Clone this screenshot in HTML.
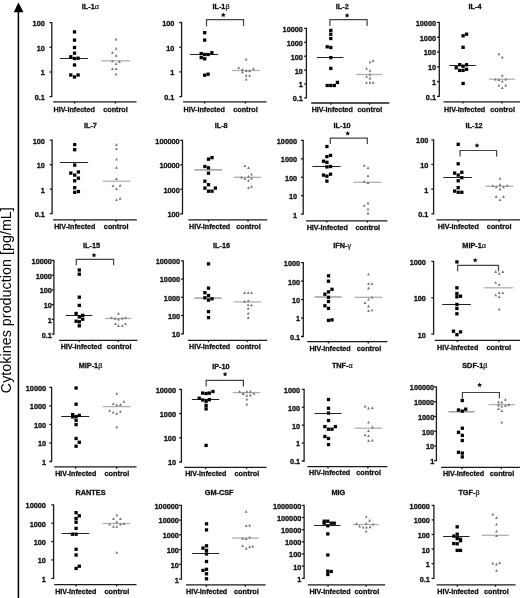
<!DOCTYPE html>
<html><head><meta charset="utf-8"><title>Cytokine production in HIV-infected vs control</title>
<style>
html,body{margin:0;padding:0;background:#fff;}
body{width:520px;height:598px;overflow:hidden;}
svg{display:block;will-change:transform;filter:blur(0.25px);}
text{font-family:"Liberation Sans",sans-serif;}
.ax{stroke:#1a1a1a;stroke-width:1.3;fill:none;}
.br{stroke:#444;stroke-width:1.2;fill:none;}
.tl,.xl,.tt{font-size:7.3px;font-weight:bold;fill:#111;stroke:#111;stroke-width:0.3px;}
.tl{text-anchor:end;}
.xl,.tt{text-anchor:middle;}
.gk{font-weight:normal;stroke-width:0.2px;}
.st{font-size:9px;font-weight:bold;text-anchor:middle;fill:#111;stroke:#111;stroke-width:0.3px;}
.tr{fill:#767676;}
rect{fill:#000;}
</style></head><body>
<svg width="520" height="598" viewBox="0 0 520 598">
<rect x="0" y="0" width="520" height="598" style="fill:#fff"/>
<line x1="18.4" y1="11" x2="18.4" y2="598" stroke="#000" stroke-width="1.5"/>
<path d="M18.5 2.5L23.5 12.2H13.7Z" fill="#000"/>
<text transform="translate(11,393.2) rotate(-90)" font-size="14.2" textLength="186" lengthAdjust="spacing" fill="#000">Cytokines production [pg/mL]</text>
<path d="M49.5 22.6H51.8V96.7H49.5" class="ax"/>
<line x1="49.5" y1="47.3" x2="51.8" y2="47.3" class="ax"/>
<line x1="49.5" y1="72" x2="51.8" y2="72" class="ax"/>
<text x="44.8" y="26" class="tl">100</text>
<text x="44.8" y="50.7" class="tl">10</text>
<text x="44.8" y="75.4" class="tl">1</text>
<text x="44.8" y="100.1" class="tl">0.1</text>
<line x1="53.1" y1="101.8" x2="136.5" y2="101.8" class="ax"/>
<line x1="74.6" y1="101.8" x2="74.6" y2="103.6" class="ax"/>
<line x1="115.4" y1="101.8" x2="115.4" y2="103.6" class="ax"/>
<text x="74.2" y="111.7" class="xl" textLength="41.2" lengthAdjust="spacingAndGlyphs">HIV-infected</text>
<text x="115.5" y="111.7" class="xl">control</text>
<text x="90.4" y="8.5" class="tt">IL-1<tspan class="gk">α</tspan></text>
<line x1="59.9" y1="58.5" x2="87.8" y2="58.5" stroke="#222" stroke-width="1.0"/>
<line x1="101.2" y1="60.8" x2="129.9" y2="60.8" stroke="#b0b0b0" stroke-width="1.3"/>
<rect x="72.85" y="30.25" width="3.3" height="3.3"/>
<rect x="72.85" y="38.45" width="3.3" height="3.3"/>
<rect x="72.85" y="45.85" width="3.3" height="3.3"/>
<rect x="72.85" y="51.55" width="3.3" height="3.3"/>
<rect x="69.15" y="55.15" width="3.3" height="3.3"/>
<rect x="72.85" y="56.85" width="3.3" height="3.3"/>
<rect x="76.45" y="56.55" width="3.3" height="3.3"/>
<rect x="72.85" y="63.35" width="3.3" height="3.3"/>
<rect x="69.15" y="73.35" width="3.3" height="3.3"/>
<rect x="72.85" y="75.35" width="3.3" height="3.3"/>
<rect x="76.45" y="73.35" width="3.3" height="3.3"/>
<path d="M116.1 37.7L117.5 40.5H114.7Z" class="tr"/>
<path d="M116.1 46.9L117.5 49.7H114.7Z" class="tr"/>
<path d="M112.4 50.9L113.8 53.7H111Z" class="tr"/>
<path d="M116.1 54L117.5 56.8H114.7Z" class="tr"/>
<path d="M112.4 59.5L113.8 62.3H111Z" class="tr"/>
<path d="M119.4 60.1L120.8 62.9H118Z" class="tr"/>
<path d="M116.1 62.3L117.5 65.1H114.7Z" class="tr"/>
<path d="M112.4 67.3L113.8 70.1H111Z" class="tr"/>
<path d="M116.1 67.3L117.5 70.1H114.7Z" class="tr"/>
<path d="M116.1 72.4L117.5 75.2H114.7Z" class="tr"/>
<path d="M179.3 22.5H181.6V96.6H179.3" class="ax"/>
<line x1="179.3" y1="47.2" x2="181.6" y2="47.2" class="ax"/>
<line x1="179.3" y1="71.9" x2="181.6" y2="71.9" class="ax"/>
<text x="174.4" y="25.9" class="tl">100</text>
<text x="174.4" y="50.6" class="tl">10</text>
<text x="174.4" y="75.3" class="tl">1</text>
<text x="174.4" y="100" class="tl">0.1</text>
<line x1="183.1" y1="101.8" x2="266.5" y2="101.8" class="ax"/>
<line x1="204.6" y1="101.8" x2="204.6" y2="103.6" class="ax"/>
<line x1="245.4" y1="101.8" x2="245.4" y2="103.6" class="ax"/>
<text x="204.2" y="111.7" class="xl" textLength="41.2" lengthAdjust="spacingAndGlyphs">HIV-infected</text>
<text x="245.5" y="111.7" class="xl">control</text>
<text x="221" y="8.5" class="tt">IL-1<tspan class="gk">β</tspan></text>
<path d="M206.5 26.3V19.6H243.5V26.3" class="br"/>
<polygon points="223.3,12.5 224.03,13.99 225.68,14.23 224.49,15.39 224.77,17.02 223.3,16.25 221.83,17.02 222.11,15.39 220.92,14.23 222.57,13.99" fill="#111"/>
<line x1="189.9" y1="54.5" x2="218.1" y2="54.5" stroke="#222" stroke-width="1.0"/>
<line x1="231.9" y1="70.5" x2="259.9" y2="70.5" stroke="#b0b0b0" stroke-width="1.3"/>
<rect x="203.05" y="31.05" width="3.3" height="3.3"/>
<rect x="203.05" y="38.45" width="3.3" height="3.3"/>
<rect x="199.55" y="51.95" width="3.3" height="3.3"/>
<rect x="203.05" y="52.85" width="3.3" height="3.3"/>
<rect x="206.45" y="52.85" width="3.3" height="3.3"/>
<rect x="210.25" y="51.05" width="3.3" height="3.3"/>
<rect x="199.55" y="55.95" width="3.3" height="3.3"/>
<rect x="203.05" y="57.15" width="3.3" height="3.3"/>
<rect x="203.05" y="73.55" width="3.3" height="3.3"/>
<rect x="206.45" y="72.55" width="3.3" height="3.3"/>
<path d="M246.2 57.7L247.6 60.5H244.8Z" class="tr"/>
<path d="M238.8 66.3L240.2 69.1H237.4Z" class="tr"/>
<path d="M242.4 68.1L243.8 70.9H241Z" class="tr"/>
<path d="M246.2 69.3L247.6 72.1H244.8Z" class="tr"/>
<path d="M249.6 69.3L251 72.1H248.2Z" class="tr"/>
<path d="M253.5 67.3L254.9 70.1H252.1Z" class="tr"/>
<path d="M242.4 70.5L243.8 73.3H241Z" class="tr"/>
<path d="M246.2 74L247.6 76.8H244.8Z" class="tr"/>
<path d="M249.6 74L251 76.8H248.2Z" class="tr"/>
<path d="M246.2 77.7L247.6 80.5H244.8Z" class="tr"/>
<path d="M304.1 28.4H306.4V97.9H304.1" class="ax"/>
<line x1="304.1" y1="42.3" x2="306.4" y2="42.3" class="ax"/>
<line x1="304.1" y1="56.2" x2="306.4" y2="56.2" class="ax"/>
<line x1="304.1" y1="70.1" x2="306.4" y2="70.1" class="ax"/>
<line x1="304.1" y1="84" x2="306.4" y2="84" class="ax"/>
<text x="302.9" y="31.8" class="tl">10000</text>
<text x="302.9" y="45.7" class="tl">1000</text>
<text x="302.9" y="59.6" class="tl">100</text>
<text x="302.9" y="73.5" class="tl">10</text>
<text x="302.9" y="87.4" class="tl">1</text>
<text x="302.9" y="101.3" class="tl">0.1</text>
<line x1="311.2" y1="103" x2="389.3" y2="103" class="ax"/>
<line x1="330.8" y1="103" x2="330.8" y2="104.8" class="ax"/>
<line x1="369.6" y1="103" x2="369.6" y2="104.8" class="ax"/>
<text x="332.3" y="112" class="xl" textLength="41.2" lengthAdjust="spacingAndGlyphs">HIV-infected</text>
<text x="369.9" y="112" class="xl">control</text>
<text x="342.3" y="8.8" class="tt">IL-2</text>
<path d="M329.9 26V19.7H367.1V26" class="br"/>
<polygon points="347.1,12.9 347.83,14.39 349.48,14.63 348.29,15.79 348.57,17.42 347.1,16.65 345.63,17.42 345.91,15.79 344.72,14.63 346.37,14.39" fill="#111"/>
<line x1="316.9" y1="57.5" x2="343.5" y2="57.5" stroke="#222" stroke-width="1.0"/>
<line x1="356.2" y1="74.5" x2="382.3" y2="74.5" stroke="#b0b0b0" stroke-width="1.3"/>
<rect x="329.15" y="28.75" width="3.3" height="3.3"/>
<rect x="329.15" y="32.55" width="3.3" height="3.3"/>
<rect x="329.15" y="36.85" width="3.3" height="3.3"/>
<rect x="325.55" y="45.15" width="3.3" height="3.3"/>
<rect x="329.15" y="45.85" width="3.3" height="3.3"/>
<rect x="329.15" y="55.95" width="3.3" height="3.3"/>
<rect x="329.15" y="66.75" width="3.3" height="3.3"/>
<rect x="335.75" y="80.75" width="3.3" height="3.3"/>
<rect x="325.55" y="83.85" width="3.3" height="3.3"/>
<rect x="329.15" y="83.85" width="3.3" height="3.3"/>
<rect x="332.65" y="83.85" width="3.3" height="3.3"/>
<path d="M373.1 59.2L374.5 62H371.7Z" class="tr"/>
<path d="M370 60.4L371.4 63.2H368.6Z" class="tr"/>
<path d="M366.5 66.9L367.9 69.7H365.1Z" class="tr"/>
<path d="M370 68.9L371.4 71.7H368.6Z" class="tr"/>
<path d="M370 72.7L371.4 75.5H368.6Z" class="tr"/>
<path d="M366.5 75L367.9 77.8H365.1Z" class="tr"/>
<path d="M370 76.6L371.4 79.4H368.6Z" class="tr"/>
<path d="M366.5 80.9L367.9 83.7H365.1Z" class="tr"/>
<path d="M370 80.9L371.4 83.7H368.6Z" class="tr"/>
<path d="M373.1 80.9L374.5 83.7H371.7Z" class="tr"/>
<path d="M437 22.4H439.3V96.4H437" class="ax"/>
<line x1="437" y1="37.2" x2="439.3" y2="37.2" class="ax"/>
<line x1="437" y1="52" x2="439.3" y2="52" class="ax"/>
<line x1="437" y1="66.8" x2="439.3" y2="66.8" class="ax"/>
<line x1="437" y1="81.6" x2="439.3" y2="81.6" class="ax"/>
<text x="436" y="25.8" class="tl">10000</text>
<text x="436" y="40.6" class="tl">1000</text>
<text x="436" y="55.4" class="tl">100</text>
<text x="436" y="70.2" class="tl">10</text>
<text x="436" y="85" class="tl">1</text>
<text x="436" y="99.8" class="tl">0.1</text>
<line x1="443.5" y1="101.8" x2="520" y2="101.8" class="ax"/>
<line x1="462.9" y1="101.8" x2="462.9" y2="103.6" class="ax"/>
<line x1="502" y1="101.8" x2="502" y2="103.6" class="ax"/>
<text x="464.6" y="111.7" class="xl" textLength="41.2" lengthAdjust="spacingAndGlyphs">HIV-infected</text>
<text x="502.6" y="111.7" class="xl">control</text>
<text x="475" y="8.8" class="tt">IL-4</text>
<line x1="449.5" y1="65.5" x2="475.8" y2="65.5" stroke="#222" stroke-width="1.0"/>
<line x1="488.9" y1="79.2" x2="514.9" y2="79.2" stroke="#b0b0b0" stroke-width="1.3"/>
<rect x="461.45" y="34.15" width="3.3" height="3.3"/>
<rect x="464.95" y="32.55" width="3.3" height="3.3"/>
<rect x="461.45" y="45.65" width="3.3" height="3.3"/>
<rect x="458.05" y="63.05" width="3.3" height="3.3"/>
<rect x="464.95" y="63.05" width="3.3" height="3.3"/>
<rect x="454.55" y="66.15" width="3.3" height="3.3"/>
<rect x="461.45" y="64.55" width="3.3" height="3.3"/>
<rect x="458.05" y="68.75" width="3.3" height="3.3"/>
<rect x="461.45" y="68.75" width="3.3" height="3.3"/>
<rect x="464.95" y="67.65" width="3.3" height="3.3"/>
<rect x="461.45" y="81.85" width="3.3" height="3.3"/>
<path d="M498.9 52.4L500.3 55.2H497.5Z" class="tr"/>
<path d="M502.3 55.8L503.7 58.6H500.9Z" class="tr"/>
<path d="M502.3 74L503.7 76.8H500.9Z" class="tr"/>
<path d="M495.4 77.7L496.8 80.5H494Z" class="tr"/>
<path d="M498.9 78.1L500.3 80.9H497.5Z" class="tr"/>
<path d="M502.3 79.7L503.7 82.5H500.9Z" class="tr"/>
<path d="M505.8 77.7L507.2 80.5H504.4Z" class="tr"/>
<path d="M498.9 83.8L500.3 86.6H497.5Z" class="tr"/>
<path d="M505.8 83.8L507.2 86.6H504.4Z" class="tr"/>
<path d="M502.3 86.3L503.7 89.1H500.9Z" class="tr"/>
<path d="M49.8 140.2H52.1V213.6H49.8" class="ax"/>
<line x1="49.8" y1="164.67" x2="52.1" y2="164.67" class="ax"/>
<line x1="49.8" y1="189.13" x2="52.1" y2="189.13" class="ax"/>
<text x="44.9" y="143.6" class="tl">100</text>
<text x="44.9" y="168.07" class="tl">10</text>
<text x="44.9" y="192.53" class="tl">1</text>
<text x="44.9" y="217" class="tl">0.1</text>
<line x1="53.1" y1="219.9" x2="136.9" y2="219.9" class="ax"/>
<line x1="74.6" y1="219.9" x2="74.6" y2="221.7" class="ax"/>
<line x1="116.1" y1="219.9" x2="116.1" y2="221.7" class="ax"/>
<text x="74.8" y="229.3" class="xl" textLength="41.2" lengthAdjust="spacingAndGlyphs">HIV-infected</text>
<text x="116.2" y="229.3" class="xl">control</text>
<text x="90.4" y="128.1" class="tt">IL-7</text>
<line x1="59.9" y1="162.5" x2="88.1" y2="162.5" stroke="#222" stroke-width="1.0"/>
<line x1="102.7" y1="181.2" x2="130.4" y2="181.2" stroke="#b0b0b0" stroke-width="1.3"/>
<rect x="73.05" y="142.95" width="3.3" height="3.3"/>
<rect x="73.05" y="148.05" width="3.3" height="3.3"/>
<rect x="73.05" y="163.45" width="3.3" height="3.3"/>
<rect x="69.15" y="171.45" width="3.3" height="3.3"/>
<rect x="76.75" y="170.35" width="3.3" height="3.3"/>
<rect x="73.05" y="173.45" width="3.3" height="3.3"/>
<rect x="76.75" y="176.55" width="3.3" height="3.3"/>
<rect x="73.05" y="179.15" width="3.3" height="3.3"/>
<rect x="73.05" y="186.05" width="3.3" height="3.3"/>
<rect x="73.05" y="190.65" width="3.3" height="3.3"/>
<rect x="76.75" y="189.85" width="3.3" height="3.3"/>
<path d="M116.5 143.1L117.9 145.9H115.1Z" class="tr"/>
<path d="M116.5 147.3L117.9 150.1H115.1Z" class="tr"/>
<path d="M116.5 157.7L117.9 160.5H115.1Z" class="tr"/>
<path d="M116.5 165.9L117.9 168.7H115.1Z" class="tr"/>
<path d="M116.5 177.3L117.9 180.1H115.1Z" class="tr"/>
<path d="M113 184.3L114.4 187.1H111.6Z" class="tr"/>
<path d="M120.1 183.9L121.5 186.7H118.7Z" class="tr"/>
<path d="M116.5 187.3L117.9 190.1H115.1Z" class="tr"/>
<path d="M116.5 198.2L117.9 201H115.1Z" class="tr"/>
<path d="M120.1 197L121.5 199.8H118.7Z" class="tr"/>
<path d="M180.2 140.3H182.5V213.8H180.2" class="ax"/>
<line x1="180.2" y1="164.8" x2="182.5" y2="164.8" class="ax"/>
<line x1="180.2" y1="189.3" x2="182.5" y2="189.3" class="ax"/>
<text x="179.7" y="143.7" class="tl">100000</text>
<text x="179.7" y="168.2" class="tl">10000</text>
<text x="179.7" y="192.7" class="tl">1000</text>
<text x="179.7" y="217.2" class="tl">100</text>
<line x1="188.3" y1="219.9" x2="267.4" y2="219.9" class="ax"/>
<line x1="208.5" y1="219.9" x2="208.5" y2="221.7" class="ax"/>
<line x1="248" y1="219.9" x2="248" y2="221.7" class="ax"/>
<text x="209.6" y="229.3" class="xl" textLength="41.2" lengthAdjust="spacingAndGlyphs">HIV-infected</text>
<text x="248.5" y="229.3" class="xl">control</text>
<text x="221.2" y="128.1" class="tt">IL-8</text>
<line x1="194.3" y1="169.9" x2="222" y2="169.9" stroke="#909090" stroke-width="1.3"/>
<line x1="233.8" y1="177.3" x2="261.1" y2="177.3" stroke="#b0b0b0" stroke-width="1.3"/>
<rect x="206.85" y="157.55" width="3.3" height="3.3"/>
<rect x="210.35" y="155.95" width="3.3" height="3.3"/>
<rect x="203.25" y="164.85" width="3.3" height="3.3"/>
<rect x="206.85" y="166.15" width="3.3" height="3.3"/>
<rect x="206.85" y="171.55" width="3.3" height="3.3"/>
<rect x="203.25" y="179.55" width="3.3" height="3.3"/>
<rect x="206.85" y="183.05" width="3.3" height="3.3"/>
<rect x="203.25" y="186.45" width="3.3" height="3.3"/>
<rect x="206.85" y="189.55" width="3.3" height="3.3"/>
<rect x="210.35" y="189.55" width="3.3" height="3.3"/>
<rect x="213.75" y="186.45" width="3.3" height="3.3"/>
<path d="M244.9 164.3L246.3 167.1H243.5Z" class="tr"/>
<path d="M248.5 166.3L249.9 169.1H247.1Z" class="tr"/>
<path d="M251.5 172.7L252.9 175.5H250.1Z" class="tr"/>
<path d="M241.5 175.8L242.9 178.6H240.1Z" class="tr"/>
<path d="M244.9 177L246.3 179.8H243.5Z" class="tr"/>
<path d="M248.5 175L249.9 177.8H247.1Z" class="tr"/>
<path d="M251.5 176.6L252.9 179.4H250.1Z" class="tr"/>
<path d="M248.5 178.9L249.9 181.7H247.1Z" class="tr"/>
<path d="M248.5 186.3L249.9 189.1H247.1Z" class="tr"/>
<path d="M251.5 185L252.9 187.8H250.1Z" class="tr"/>
<path d="M300.9 140.4H303.2V214.1H300.9" class="ax"/>
<line x1="300.9" y1="158.82" x2="303.2" y2="158.82" class="ax"/>
<line x1="300.9" y1="177.25" x2="303.2" y2="177.25" class="ax"/>
<line x1="300.9" y1="195.68" x2="303.2" y2="195.68" class="ax"/>
<text x="297.1" y="143.8" class="tl">10000</text>
<text x="297.1" y="162.22" class="tl">1000</text>
<text x="297.1" y="180.65" class="tl">100</text>
<text x="297.1" y="199.08" class="tl">10</text>
<text x="297.1" y="217.5" class="tl">1</text>
<line x1="306.1" y1="220.8" x2="387.4" y2="220.8" class="ax"/>
<line x1="326.8" y1="220.8" x2="326.8" y2="222.6" class="ax"/>
<line x1="367.5" y1="220.8" x2="367.5" y2="222.6" class="ax"/>
<text x="327.3" y="229.9" class="xl" textLength="41.2" lengthAdjust="spacingAndGlyphs">HIV-infected</text>
<text x="367.8" y="229.9" class="xl">control</text>
<text x="342.1" y="128.1" class="tt">IL-10</text>
<path d="M330.3 143.9V138.1H367.3V143.9" class="br"/>
<polygon points="347.7,131 348.43,132.49 350.08,132.73 348.89,133.89 349.17,135.52 347.7,134.75 346.23,135.52 346.51,133.89 345.32,132.73 346.97,132.49" fill="#111"/>
<line x1="312.3" y1="166.5" x2="340.5" y2="166.5" stroke="#222" stroke-width="1.0"/>
<line x1="353.5" y1="182.3" x2="381.5" y2="182.3" stroke="#b0b0b0" stroke-width="1.3"/>
<rect x="325.25" y="144.85" width="3.3" height="3.3"/>
<rect x="325.25" y="154.95" width="3.3" height="3.3"/>
<rect x="328.85" y="153.75" width="3.3" height="3.3"/>
<rect x="321.85" y="159.55" width="3.3" height="3.3"/>
<rect x="325.25" y="160.65" width="3.3" height="3.3"/>
<rect x="325.25" y="165.25" width="3.3" height="3.3"/>
<rect x="328.85" y="164.85" width="3.3" height="3.3"/>
<rect x="321.85" y="173.45" width="3.3" height="3.3"/>
<rect x="325.25" y="174.55" width="3.3" height="3.3"/>
<rect x="328.85" y="172.55" width="3.3" height="3.3"/>
<rect x="325.25" y="179.45" width="3.3" height="3.3"/>
<path d="M364.2 163.9L365.6 166.7H362.8Z" class="tr"/>
<path d="M368 166.2L369.4 169H366.6Z" class="tr"/>
<path d="M368 174.2L369.4 177H366.6Z" class="tr"/>
<path d="M364.2 180L365.6 182.8H362.8Z" class="tr"/>
<path d="M368 181.3L369.4 184.1H366.6Z" class="tr"/>
<path d="M368 201.6L369.4 204.4H366.6Z" class="tr"/>
<path d="M364.2 203.9L365.6 206.7H362.8Z" class="tr"/>
<path d="M368 207.4L369.4 210.2H366.6Z" class="tr"/>
<path d="M368 211.6L369.4 214.4H366.6Z" class="tr"/>
<path d="M431.3 139.8H433.6V213.8H431.3" class="ax"/>
<line x1="431.3" y1="164.47" x2="433.6" y2="164.47" class="ax"/>
<line x1="431.3" y1="189.13" x2="433.6" y2="189.13" class="ax"/>
<text x="428.3" y="143.2" class="tl">100</text>
<text x="428.3" y="167.87" class="tl">10</text>
<text x="428.3" y="192.53" class="tl">1</text>
<text x="428.3" y="217.2" class="tl">0.1</text>
<line x1="436.6" y1="219.9" x2="520" y2="219.9" class="ax"/>
<line x1="458.2" y1="219.9" x2="458.2" y2="221.7" class="ax"/>
<line x1="499.2" y1="219.9" x2="499.2" y2="221.7" class="ax"/>
<text x="458.3" y="229.3" class="xl" textLength="41.2" lengthAdjust="spacingAndGlyphs">HIV-infected</text>
<text x="499.2" y="229.3" class="xl">control</text>
<text x="474" y="128.1" class="tt">IL-12</text>
<path d="M460.1 156.5V150.5H496.6V156.5" class="br"/>
<polygon points="477,143.1 477.73,144.59 479.38,144.83 478.19,145.99 478.47,147.62 477,146.85 475.53,147.62 475.81,145.99 474.62,144.83 476.27,144.59" fill="#111"/>
<line x1="443.4" y1="177.5" x2="471.8" y2="177.5" stroke="#222" stroke-width="1.0"/>
<line x1="485.4" y1="186.2" x2="513.5" y2="186.2" stroke="#b0b0b0" stroke-width="1.3"/>
<rect x="456.55" y="142.65" width="3.3" height="3.3"/>
<rect x="456.55" y="162.15" width="3.3" height="3.3"/>
<rect x="452.95" y="171.45" width="3.3" height="3.3"/>
<rect x="460.15" y="170.65" width="3.3" height="3.3"/>
<rect x="456.55" y="173.45" width="3.3" height="3.3"/>
<rect x="460.15" y="176.05" width="3.3" height="3.3"/>
<rect x="456.55" y="179.15" width="3.3" height="3.3"/>
<rect x="456.55" y="186.05" width="3.3" height="3.3"/>
<rect x="452.95" y="189.45" width="3.3" height="3.3"/>
<rect x="456.55" y="190.65" width="3.3" height="3.3"/>
<rect x="460.15" y="190.65" width="3.3" height="3.3"/>
<path d="M500 177L501.4 179.8H498.6Z" class="tr"/>
<path d="M500 183.1L501.4 185.9H498.6Z" class="tr"/>
<path d="M492.8 184.3L494.2 187.1H491.4Z" class="tr"/>
<path d="M496.2 185.4L497.6 188.2H494.8Z" class="tr"/>
<path d="M503.5 185.4L504.9 188.2H502.1Z" class="tr"/>
<path d="M507.2 183.9L508.6 186.7H505.8Z" class="tr"/>
<path d="M500 187.4L501.4 190.2H498.6Z" class="tr"/>
<path d="M496.2 195.1L497.6 197.9H494.8Z" class="tr"/>
<path d="M503.5 195.1L504.9 197.9H502.1Z" class="tr"/>
<path d="M500 198.2L501.4 201H498.6Z" class="tr"/>
<path d="M51.6 260.4H53.9V334.1H51.6" class="ax"/>
<line x1="51.6" y1="275.14" x2="53.9" y2="275.14" class="ax"/>
<line x1="51.6" y1="289.88" x2="53.9" y2="289.88" class="ax"/>
<line x1="51.6" y1="304.62" x2="53.9" y2="304.62" class="ax"/>
<line x1="51.6" y1="319.36" x2="53.9" y2="319.36" class="ax"/>
<text x="51.9" y="263.8" class="tl">10000</text>
<text x="51.9" y="278.54" class="tl">1000</text>
<text x="51.9" y="293.28" class="tl">100</text>
<text x="51.9" y="308.02" class="tl">10</text>
<text x="51.9" y="322.76" class="tl">1</text>
<text x="51.9" y="337.5" class="tl">0.1</text>
<line x1="59" y1="340.3" x2="137.4" y2="340.3" class="ax"/>
<line x1="79.4" y1="340.3" x2="79.4" y2="342.1" class="ax"/>
<line x1="118.3" y1="340.3" x2="118.3" y2="342.1" class="ax"/>
<text x="81.3" y="349.3" class="xl" textLength="41.2" lengthAdjust="spacingAndGlyphs">HIV-infected</text>
<text x="119.2" y="349.3" class="xl">control</text>
<text x="91.5" y="248.1" class="tt">IL-15</text>
<path d="M76.3 265.3V259.3H113.6V265.3" class="br"/>
<polygon points="94,252.8 94.73,254.29 96.38,254.53 95.19,255.69 95.47,257.32 94,256.55 92.53,257.32 92.81,255.69 91.62,254.53 93.27,254.29" fill="#111"/>
<line x1="65.8" y1="315.5" x2="92.4" y2="315.5" stroke="#222" stroke-width="1.0"/>
<line x1="105" y1="318.5" x2="131.2" y2="318.5" stroke="#b0b0b0" stroke-width="1.3"/>
<rect x="77.65" y="268.35" width="3.3" height="3.3"/>
<rect x="77.65" y="272.55" width="3.3" height="3.3"/>
<rect x="77.65" y="295.55" width="3.3" height="3.3"/>
<rect x="77.65" y="303.75" width="3.3" height="3.3"/>
<rect x="74.45" y="311.85" width="3.3" height="3.3"/>
<rect x="81.05" y="313.75" width="3.3" height="3.3"/>
<rect x="77.65" y="315.25" width="3.3" height="3.3"/>
<rect x="81.05" y="317.55" width="3.3" height="3.3"/>
<rect x="74.45" y="319.55" width="3.3" height="3.3"/>
<rect x="77.65" y="320.15" width="3.3" height="3.3"/>
<rect x="77.65" y="324.15" width="3.3" height="3.3"/>
<path d="M118.5 312L119.9 314.8H117.1Z" class="tr"/>
<path d="M111.6 316.2L113 319H110.2Z" class="tr"/>
<path d="M115 317L116.4 319.8H113.6Z" class="tr"/>
<path d="M118.5 317.7L119.9 320.5H117.1Z" class="tr"/>
<path d="M122.2 316.7L123.6 319.5H120.8Z" class="tr"/>
<path d="M125.5 316.2L126.9 319H124.1Z" class="tr"/>
<path d="M115.5 322.3L116.9 325.1H114.1Z" class="tr"/>
<path d="M118.5 324.3L119.9 327.1H117.1Z" class="tr"/>
<path d="M122.2 323.9L123.6 326.7H120.8Z" class="tr"/>
<path d="M125.5 322.3L126.9 325.1H124.1Z" class="tr"/>
<path d="M181 260.8H183.3V333.8H181" class="ax"/>
<line x1="181" y1="279.05" x2="183.3" y2="279.05" class="ax"/>
<line x1="181" y1="297.3" x2="183.3" y2="297.3" class="ax"/>
<line x1="181" y1="315.55" x2="183.3" y2="315.55" class="ax"/>
<text x="180.1" y="264.2" class="tl">100000</text>
<text x="180.1" y="282.45" class="tl">10000</text>
<text x="180.1" y="300.7" class="tl">1000</text>
<text x="180.1" y="318.95" class="tl">100</text>
<text x="180.1" y="337.2" class="tl">10</text>
<line x1="187.8" y1="340.3" x2="267.4" y2="340.3" class="ax"/>
<line x1="208.5" y1="340.3" x2="208.5" y2="342.1" class="ax"/>
<line x1="247.5" y1="340.3" x2="247.5" y2="342.1" class="ax"/>
<text x="209.6" y="349.3" class="xl" textLength="41.2" lengthAdjust="spacingAndGlyphs">HIV-infected</text>
<text x="248.5" y="349.3" class="xl">control</text>
<text x="221.5" y="248.1" class="tt">IL-16</text>
<line x1="194.6" y1="298.1" x2="221.5" y2="298.1" stroke="#909090" stroke-width="1.3"/>
<line x1="233.8" y1="301.9" x2="261.1" y2="301.9" stroke="#b0b0b0" stroke-width="1.3"/>
<rect x="206.85" y="262.25" width="3.3" height="3.3"/>
<rect x="206.85" y="286.45" width="3.3" height="3.3"/>
<rect x="203.25" y="291.05" width="3.3" height="3.3"/>
<rect x="206.85" y="293.85" width="3.3" height="3.3"/>
<rect x="203.25" y="296.15" width="3.3" height="3.3"/>
<rect x="206.85" y="298.45" width="3.3" height="3.3"/>
<rect x="210.35" y="297.15" width="3.3" height="3.3"/>
<rect x="206.85" y="309.95" width="3.3" height="3.3"/>
<rect x="206.85" y="315.95" width="3.3" height="3.3"/>
<path d="M244.6 291.2L246 294H243.2Z" class="tr"/>
<path d="M248.2 291.2L249.6 294H246.8Z" class="tr"/>
<path d="M251.5 291.2L252.9 294H250.1Z" class="tr"/>
<path d="M244.6 300L246 302.8H243.2Z" class="tr"/>
<path d="M248.2 299.2L249.6 302H246.8Z" class="tr"/>
<path d="M248.2 303.2L249.6 306H246.8Z" class="tr"/>
<path d="M251.5 303.5L252.9 306.3H250.1Z" class="tr"/>
<path d="M248.2 306.9L249.6 309.7H246.8Z" class="tr"/>
<path d="M248.2 311.7L249.6 314.5H246.8Z" class="tr"/>
<path d="M248.2 316.1L249.6 318.9H246.8Z" class="tr"/>
<path d="M301 262.7H303.3V336.5H301" class="ax"/>
<line x1="301" y1="281.15" x2="303.3" y2="281.15" class="ax"/>
<line x1="301" y1="299.6" x2="303.3" y2="299.6" class="ax"/>
<line x1="301" y1="318.05" x2="303.3" y2="318.05" class="ax"/>
<text x="300.1" y="266.1" class="tl">1000</text>
<text x="300.1" y="284.55" class="tl">100</text>
<text x="300.1" y="303" class="tl">10</text>
<text x="300.1" y="321.45" class="tl">1</text>
<text x="300.1" y="339.9" class="tl">0.1</text>
<line x1="307.3" y1="341.7" x2="387.4" y2="341.7" class="ax"/>
<line x1="328.5" y1="341.7" x2="328.5" y2="343.5" class="ax"/>
<line x1="368.3" y1="341.7" x2="368.3" y2="343.5" class="ax"/>
<text x="330" y="351" class="xl" textLength="41.2" lengthAdjust="spacingAndGlyphs">HIV-infected</text>
<text x="369" y="351" class="xl">control</text>
<text x="342.2" y="247.9" class="tt">IFN-<tspan class="gk">γ</tspan></text>
<line x1="314.6" y1="297" x2="341.5" y2="297" stroke="#909090" stroke-width="1.3"/>
<line x1="354.6" y1="297.3" x2="382.3" y2="297.3" stroke="#b0b0b0" stroke-width="1.3"/>
<rect x="326.85" y="274.15" width="3.3" height="3.3"/>
<rect x="326.85" y="279.55" width="3.3" height="3.3"/>
<rect x="330.35" y="287.65" width="3.3" height="3.3"/>
<rect x="326.85" y="290.25" width="3.3" height="3.3"/>
<rect x="323.25" y="292.55" width="3.3" height="3.3"/>
<rect x="326.85" y="295.65" width="3.3" height="3.3"/>
<rect x="326.85" y="299.85" width="3.3" height="3.3"/>
<rect x="323.25" y="304.15" width="3.3" height="3.3"/>
<rect x="326.85" y="306.75" width="3.3" height="3.3"/>
<rect x="326.85" y="318.75" width="3.3" height="3.3"/>
<rect x="330.35" y="318.25" width="3.3" height="3.3"/>
<path d="M368.5 272.7L369.9 275.5H367.1Z" class="tr"/>
<path d="M368.5 282.3L369.9 285.1H367.1Z" class="tr"/>
<path d="M372 282.3L373.4 285.1H370.6Z" class="tr"/>
<path d="M368.5 286.6L369.9 289.4H367.1Z" class="tr"/>
<path d="M372 295.8L373.4 298.6H370.6Z" class="tr"/>
<path d="M368.5 297.7L369.9 300.5H367.1Z" class="tr"/>
<path d="M365.1 301.2L366.5 304H363.7Z" class="tr"/>
<path d="M368.5 304.6L369.9 307.4H367.1Z" class="tr"/>
<path d="M368.5 309.2L369.9 312H367.1Z" class="tr"/>
<path d="M372 308.4L373.4 311.2H370.6Z" class="tr"/>
<path d="M431.3 261.4H433.6V334.1H431.3" class="ax"/>
<line x1="431.3" y1="297.75" x2="433.6" y2="297.75" class="ax"/>
<text x="425.9" y="264.8" class="tl">1000</text>
<text x="425.9" y="301.15" class="tl">100</text>
<text x="425.9" y="337.5" class="tl">10</text>
<line x1="434.8" y1="340.3" x2="520" y2="340.3" class="ax"/>
<line x1="457.3" y1="340.3" x2="457.3" y2="342.1" class="ax"/>
<line x1="498.9" y1="340.3" x2="498.9" y2="342.1" class="ax"/>
<text x="457.7" y="349.6" class="xl" textLength="41.2" lengthAdjust="spacingAndGlyphs">HIV-infected</text>
<text x="498.8" y="349.6" class="xl">control</text>
<text x="474.2" y="247.8" class="tt">MIP-1<tspan class="gk">α</tspan></text>
<path d="M457.6 271.2V265.3H498.5V271.2" class="br"/>
<polygon points="475.2,257.8 475.93,259.29 477.58,259.53 476.39,260.69 476.67,262.32 475.2,261.55 473.73,262.32 474.01,260.69 472.82,259.53 474.47,259.29" fill="#111"/>
<line x1="442.3" y1="304.5" x2="470.8" y2="304.5" stroke="#222" stroke-width="1.0"/>
<line x1="483.8" y1="287.8" x2="513.1" y2="287.8" stroke="#b0b0b0" stroke-width="1.3"/>
<rect x="455.25" y="260.25" width="3.3" height="3.3"/>
<rect x="455.25" y="286.15" width="3.3" height="3.3"/>
<rect x="455.25" y="291.85" width="3.3" height="3.3"/>
<rect x="455.25" y="295.15" width="3.3" height="3.3"/>
<rect x="458.85" y="294.55" width="3.3" height="3.3"/>
<rect x="455.25" y="302.85" width="3.3" height="3.3"/>
<rect x="455.25" y="306.85" width="3.3" height="3.3"/>
<rect x="455.25" y="312.15" width="3.3" height="3.3"/>
<rect x="451.85" y="329.55" width="3.3" height="3.3"/>
<rect x="458.85" y="330.25" width="3.3" height="3.3"/>
<rect x="455.25" y="333.05" width="3.3" height="3.3"/>
<path d="M495.7 270.1L497.1 272.9H494.3Z" class="tr"/>
<path d="M499.2 272L500.6 274.8H497.8Z" class="tr"/>
<path d="M502.8 270.1L504.2 272.9H501.4Z" class="tr"/>
<path d="M495.7 280.9L497.1 283.7H494.3Z" class="tr"/>
<path d="M499.2 283L500.6 285.8H497.8Z" class="tr"/>
<path d="M499.2 291.2L500.6 294H497.8Z" class="tr"/>
<path d="M502.8 291.2L504.2 294H501.4Z" class="tr"/>
<path d="M495.7 293.5L497.1 296.3H494.3Z" class="tr"/>
<path d="M499.2 295.3L500.6 298.1H497.8Z" class="tr"/>
<path d="M499.2 307.7L500.6 310.5H497.8Z" class="tr"/>
<path d="M49.3 387.4H51.6V461.5H49.3" class="ax"/>
<line x1="49.3" y1="405.92" x2="51.6" y2="405.92" class="ax"/>
<line x1="49.3" y1="424.45" x2="51.6" y2="424.45" class="ax"/>
<line x1="49.3" y1="442.98" x2="51.6" y2="442.98" class="ax"/>
<text x="46.1" y="390.8" class="tl">10000</text>
<text x="46.1" y="409.32" class="tl">1000</text>
<text x="46.1" y="427.85" class="tl">100</text>
<text x="46.1" y="446.38" class="tl">10</text>
<text x="46.1" y="464.9" class="tl">1</text>
<line x1="54.3" y1="466.9" x2="136.5" y2="466.9" class="ax"/>
<line x1="75.6" y1="466.9" x2="75.6" y2="468.7" class="ax"/>
<line x1="116.6" y1="466.9" x2="116.6" y2="468.7" class="ax"/>
<text x="75.8" y="475.8" class="xl" textLength="41.2" lengthAdjust="spacingAndGlyphs">HIV-infected</text>
<text x="116.9" y="475.8" class="xl">control</text>
<text x="90.5" y="367.6" class="tt">MIP-1<tspan class="gk">β</tspan></text>
<line x1="61.2" y1="416.5" x2="89.2" y2="416.5" stroke="#222" stroke-width="1.0"/>
<line x1="102.7" y1="406.6" x2="130.7" y2="406.6" stroke="#b0b0b0" stroke-width="1.3"/>
<rect x="74.45" y="386.35" width="3.3" height="3.3"/>
<rect x="74.45" y="402.55" width="3.3" height="3.3"/>
<rect x="71.05" y="412.95" width="3.3" height="3.3"/>
<rect x="71.05" y="415.25" width="3.3" height="3.3"/>
<rect x="74.45" y="414.95" width="3.3" height="3.3"/>
<rect x="77.65" y="413.75" width="3.3" height="3.3"/>
<rect x="74.45" y="418.65" width="3.3" height="3.3"/>
<rect x="74.45" y="422.95" width="3.3" height="3.3"/>
<rect x="74.45" y="436.85" width="3.3" height="3.3"/>
<rect x="77.65" y="440.65" width="3.3" height="3.3"/>
<rect x="74.45" y="444.55" width="3.3" height="3.3"/>
<path d="M116.8 392L118.2 394.8H115.4Z" class="tr"/>
<path d="M123.9 400L125.3 402.8H122.5Z" class="tr"/>
<path d="M113.2 402.3L114.6 405.1H111.8Z" class="tr"/>
<path d="M116.8 403.4L118.2 406.2H115.4Z" class="tr"/>
<path d="M120.4 403.1L121.8 405.9H119Z" class="tr"/>
<path d="M109.6 409L111 411.8H108.2Z" class="tr"/>
<path d="M113.2 410.8L114.6 413.6H111.8Z" class="tr"/>
<path d="M116.8 412L118.2 414.8H115.4Z" class="tr"/>
<path d="M120.4 410L121.8 412.8H119Z" class="tr"/>
<path d="M116.8 425.4L118.2 428.2H115.4Z" class="tr"/>
<path d="M179.1 389.3H181.4V462H179.1" class="ax"/>
<line x1="179.1" y1="413.53" x2="181.4" y2="413.53" class="ax"/>
<line x1="179.1" y1="437.77" x2="181.4" y2="437.77" class="ax"/>
<text x="176" y="392.7" class="tl">10000</text>
<text x="176" y="416.93" class="tl">1000</text>
<text x="176" y="441.17" class="tl">100</text>
<text x="176" y="465.4" class="tl">10</text>
<line x1="184.3" y1="467.3" x2="266.5" y2="467.3" class="ax"/>
<line x1="205.6" y1="467.3" x2="205.6" y2="469.1" class="ax"/>
<line x1="246.6" y1="467.3" x2="246.6" y2="469.1" class="ax"/>
<text x="205.8" y="475.8" class="xl" textLength="41.2" lengthAdjust="spacingAndGlyphs">HIV-infected</text>
<text x="246.9" y="475.8" class="xl">control</text>
<text x="220.9" y="368.7" class="tt">IP-10</text>
<path d="M206.2 386.5V380.3H243.4V386.5" class="br"/>
<polygon points="225.1,371.7 225.83,373.19 227.48,373.43 226.29,374.59 226.57,376.22 225.1,375.45 223.63,376.22 223.91,374.59 222.72,373.43 224.37,373.19" fill="#111"/>
<line x1="191.9" y1="399.5" x2="219.2" y2="399.5" stroke="#222" stroke-width="1.0"/>
<line x1="232.7" y1="392.6" x2="260.4" y2="392.6" stroke="#b0b0b0" stroke-width="1.3"/>
<rect x="201.05" y="391.45" width="3.3" height="3.3"/>
<rect x="204.45" y="391.85" width="3.3" height="3.3"/>
<rect x="207.65" y="391.45" width="3.3" height="3.3"/>
<rect x="211.35" y="389.85" width="3.3" height="3.3"/>
<rect x="197.55" y="396.55" width="3.3" height="3.3"/>
<rect x="201.05" y="398.35" width="3.3" height="3.3"/>
<rect x="204.45" y="399.55" width="3.3" height="3.3"/>
<rect x="207.65" y="398.05" width="3.3" height="3.3"/>
<rect x="204.45" y="403.75" width="3.3" height="3.3"/>
<rect x="204.45" y="407.25" width="3.3" height="3.3"/>
<rect x="204.45" y="443.75" width="3.3" height="3.3"/>
<path d="M239.6 390L241 392.8H238.2Z" class="tr"/>
<path d="M243.2 391.6L244.6 394.4H241.8Z" class="tr"/>
<path d="M246.8 390L248.2 392.8H245.4Z" class="tr"/>
<path d="M250.4 390L251.8 392.8H249Z" class="tr"/>
<path d="M253.9 392L255.3 394.8H252.5Z" class="tr"/>
<path d="M246.8 393.9L248.2 396.7H245.4Z" class="tr"/>
<path d="M250.4 393.6L251.8 396.4H249Z" class="tr"/>
<path d="M243.2 392.3L244.6 395.1H241.8Z" class="tr"/>
<path d="M246.8 397.7L248.2 400.5H245.4Z" class="tr"/>
<path d="M246.8 402.8L248.2 405.6H245.4Z" class="tr"/>
<path d="M301.8 389.3H304.1V461H301.8" class="ax"/>
<line x1="301.8" y1="407.23" x2="304.1" y2="407.23" class="ax"/>
<line x1="301.8" y1="425.15" x2="304.1" y2="425.15" class="ax"/>
<line x1="301.8" y1="443.07" x2="304.1" y2="443.07" class="ax"/>
<text x="300.1" y="392.7" class="tl">1000</text>
<text x="300.1" y="410.62" class="tl">100</text>
<text x="300.1" y="428.55" class="tl">10</text>
<text x="300.1" y="446.47" class="tl">1</text>
<text x="300.1" y="464.4" class="tl">0.1</text>
<line x1="307.3" y1="466.6" x2="387.4" y2="466.6" class="ax"/>
<line x1="328" y1="466.6" x2="328" y2="468.4" class="ax"/>
<line x1="367.8" y1="466.6" x2="367.8" y2="468.4" class="ax"/>
<text x="329.6" y="475.2" class="xl" textLength="41.2" lengthAdjust="spacingAndGlyphs">HIV-infected</text>
<text x="368.6" y="475.2" class="xl">control</text>
<text x="342.3" y="367.8" class="tt">TNF-<tspan class="gk">α</tspan></text>
<line x1="314.6" y1="413.5" x2="341.5" y2="413.5" stroke="#222" stroke-width="1.0"/>
<line x1="354.6" y1="428.2" x2="382" y2="428.2" stroke="#b0b0b0" stroke-width="1.3"/>
<rect x="326.85" y="397.85" width="3.3" height="3.3"/>
<rect x="326.85" y="406.55" width="3.3" height="3.3"/>
<rect x="326.85" y="411.45" width="3.3" height="3.3"/>
<rect x="326.85" y="418.85" width="3.3" height="3.3"/>
<rect x="323.25" y="424.95" width="3.3" height="3.3"/>
<rect x="326.85" y="427.55" width="3.3" height="3.3"/>
<rect x="330.35" y="427.55" width="3.3" height="3.3"/>
<rect x="333.75" y="424.95" width="3.3" height="3.3"/>
<rect x="323.25" y="434.85" width="3.3" height="3.3"/>
<rect x="326.85" y="436.85" width="3.3" height="3.3"/>
<rect x="326.85" y="442.95" width="3.3" height="3.3"/>
<path d="M365.1 404.7L366.5 407.5H363.7Z" class="tr"/>
<path d="M368.5 406.7L369.9 409.5H367.1Z" class="tr"/>
<path d="M372.3 406.2L373.7 409H370.9Z" class="tr"/>
<path d="M368.5 420.8L369.9 423.6H367.1Z" class="tr"/>
<path d="M372.3 425.7L373.7 428.5H370.9Z" class="tr"/>
<path d="M368.5 429.3L369.9 432.1H367.1Z" class="tr"/>
<path d="M365.1 433.4L366.5 436.2H363.7Z" class="tr"/>
<path d="M368.5 434.3L369.9 437.1H367.1Z" class="tr"/>
<path d="M368.5 439.3L369.9 442.1H367.1Z" class="tr"/>
<path d="M372.3 438.8L373.7 441.6H370.9Z" class="tr"/>
<path d="M434.1 386.9H436.4V460.7H434.1" class="ax"/>
<line x1="434.1" y1="401.66" x2="436.4" y2="401.66" class="ax"/>
<line x1="434.1" y1="416.42" x2="436.4" y2="416.42" class="ax"/>
<line x1="434.1" y1="431.18" x2="436.4" y2="431.18" class="ax"/>
<line x1="434.1" y1="445.94" x2="436.4" y2="445.94" class="ax"/>
<text x="434.2" y="390.3" class="tl">100000</text>
<text x="434.2" y="405.06" class="tl">10000</text>
<text x="434.2" y="419.82" class="tl">1000</text>
<text x="434.2" y="434.58" class="tl">100</text>
<text x="434.2" y="449.34" class="tl">10</text>
<text x="434.2" y="464.1" class="tl">1</text>
<line x1="441.2" y1="467.3" x2="520" y2="467.3" class="ax"/>
<line x1="462" y1="467.3" x2="462" y2="469.1" class="ax"/>
<line x1="501.3" y1="467.3" x2="501.3" y2="469.1" class="ax"/>
<text x="463.5" y="475.8" class="xl" textLength="41.2" lengthAdjust="spacingAndGlyphs">HIV-infected</text>
<text x="502" y="475.8" class="xl">control</text>
<text x="474.9" y="368.1" class="tt">SDF-1<tspan class="gk">β</tspan></text>
<path d="M462.4 398.5V392.5H499.4V398.5" class="br"/>
<polygon points="479.6,382.5 480.33,383.99 481.98,384.23 480.79,385.39 481.07,387.02 479.6,386.25 478.13,387.02 478.41,385.39 477.22,384.23 478.87,383.99" fill="#111"/>
<line x1="448.5" y1="411.8" x2="474.6" y2="411.8" stroke="#909090" stroke-width="1.3"/>
<line x1="488.5" y1="404.6" x2="514.9" y2="404.6" stroke="#b0b0b0" stroke-width="1.3"/>
<rect x="460.65" y="398.85" width="3.3" height="3.3"/>
<rect x="456.85" y="408.35" width="3.3" height="3.3"/>
<rect x="460.65" y="409.45" width="3.3" height="3.3"/>
<rect x="464.05" y="407.55" width="3.3" height="3.3"/>
<rect x="460.65" y="426.55" width="3.3" height="3.3"/>
<rect x="456.85" y="430.65" width="3.3" height="3.3"/>
<rect x="460.65" y="433.75" width="3.3" height="3.3"/>
<rect x="460.65" y="438.85" width="3.3" height="3.3"/>
<rect x="456.85" y="450.65" width="3.3" height="3.3"/>
<rect x="460.65" y="451.45" width="3.3" height="3.3"/>
<rect x="460.65" y="455.25" width="3.3" height="3.3"/>
<path d="M505.4 398L506.8 400.8H504Z" class="tr"/>
<path d="M498.5 400.5L499.9 403.3H497.1Z" class="tr"/>
<path d="M501.8 400.8L503.2 403.6H500.4Z" class="tr"/>
<path d="M498.5 403.6L499.9 406.4H497.1Z" class="tr"/>
<path d="M501.8 404.7L503.2 407.5H500.4Z" class="tr"/>
<path d="M505.4 403.9L506.8 406.7H504Z" class="tr"/>
<path d="M508.8 403.1L510.2 405.9H507.4Z" class="tr"/>
<path d="M498.5 407.3L499.9 410.1H497.1Z" class="tr"/>
<path d="M501.8 409.3L503.2 412.1H500.4Z" class="tr"/>
<path d="M501.8 420.8L503.2 423.6H500.4Z" class="tr"/>
<path d="M51.3 504.8H53.6V578.3H51.3" class="ax"/>
<line x1="51.3" y1="523.17" x2="53.6" y2="523.17" class="ax"/>
<line x1="51.3" y1="541.55" x2="53.6" y2="541.55" class="ax"/>
<line x1="51.3" y1="559.92" x2="53.6" y2="559.92" class="ax"/>
<text x="45.9" y="508.2" class="tl">10000</text>
<text x="45.9" y="526.57" class="tl">1000</text>
<text x="45.9" y="544.95" class="tl">100</text>
<text x="45.9" y="563.32" class="tl">10</text>
<text x="45.9" y="581.7" class="tl">1</text>
<line x1="54.3" y1="584.6" x2="136.5" y2="584.6" class="ax"/>
<line x1="76" y1="584.6" x2="76" y2="586.4" class="ax"/>
<line x1="116.6" y1="584.6" x2="116.6" y2="586.4" class="ax"/>
<text x="75.8" y="593.5" class="xl" textLength="41.2" lengthAdjust="spacingAndGlyphs">HIV-infected</text>
<text x="116.9" y="593.5" class="xl">control</text>
<text x="90.5" y="494.8" class="tt">RANTES</text>
<line x1="61.5" y1="533.5" x2="89.2" y2="533.5" stroke="#222" stroke-width="1.0"/>
<line x1="102.4" y1="523.5" x2="130.4" y2="523.5" stroke="#b0b0b0" stroke-width="1.3"/>
<rect x="74.45" y="511.05" width="3.3" height="3.3"/>
<rect x="77.65" y="514.15" width="3.3" height="3.3"/>
<rect x="74.45" y="516.85" width="3.3" height="3.3"/>
<rect x="74.45" y="520.55" width="3.3" height="3.3"/>
<rect x="74.45" y="526.75" width="3.3" height="3.3"/>
<rect x="70.75" y="532.55" width="3.3" height="3.3"/>
<rect x="74.45" y="532.55" width="3.3" height="3.3"/>
<rect x="74.45" y="547.65" width="3.3" height="3.3"/>
<rect x="74.45" y="553.35" width="3.3" height="3.3"/>
<rect x="74.45" y="566.75" width="3.3" height="3.3"/>
<rect x="77.65" y="564.55" width="3.3" height="3.3"/>
<path d="M116.8 513.5L118.2 516.3H115.4Z" class="tr"/>
<path d="M113.5 517.3L114.9 520.1H112.1Z" class="tr"/>
<path d="M120.4 517.3L121.8 520.1H119Z" class="tr"/>
<path d="M116.8 520.4L118.2 523.2H115.4Z" class="tr"/>
<path d="M109.6 522.7L111 525.5H108.2Z" class="tr"/>
<path d="M123.9 522.3L125.3 525.1H122.5Z" class="tr"/>
<path d="M120.4 522.7L121.8 525.5H119Z" class="tr"/>
<path d="M113.5 525L114.9 527.8H112.1Z" class="tr"/>
<path d="M116.8 525L118.2 527.8H115.4Z" class="tr"/>
<path d="M116.8 550.9L118.2 553.7H115.4Z" class="tr"/>
<path d="M179.1 505.3H181.4V579.1H179.1" class="ax"/>
<line x1="179.1" y1="520.06" x2="181.4" y2="520.06" class="ax"/>
<line x1="179.1" y1="534.82" x2="181.4" y2="534.82" class="ax"/>
<line x1="179.1" y1="549.58" x2="181.4" y2="549.58" class="ax"/>
<line x1="179.1" y1="564.34" x2="181.4" y2="564.34" class="ax"/>
<text x="178.9" y="508.7" class="tl">100000</text>
<text x="178.9" y="523.46" class="tl">10000</text>
<text x="178.9" y="538.22" class="tl">1000</text>
<text x="178.9" y="552.98" class="tl">100</text>
<text x="178.9" y="567.74" class="tl">10</text>
<text x="178.9" y="582.5" class="tl">1</text>
<line x1="186" y1="584.9" x2="265.6" y2="584.9" class="ax"/>
<line x1="206.3" y1="584.9" x2="206.3" y2="586.7" class="ax"/>
<line x1="245.4" y1="584.9" x2="245.4" y2="586.7" class="ax"/>
<text x="206.6" y="593.8" class="xl" textLength="41.2" lengthAdjust="spacingAndGlyphs">HIV-infected</text>
<text x="246.4" y="593.8" class="xl">control</text>
<text x="219.2" y="494.8" class="tt">GM-CSF</text>
<line x1="192.2" y1="553.5" x2="219.2" y2="553.5" stroke="#222" stroke-width="1.0"/>
<line x1="232.4" y1="538.1" x2="258.8" y2="538.1" stroke="#b0b0b0" stroke-width="1.3"/>
<rect x="204.85" y="522.15" width="3.3" height="3.3"/>
<rect x="204.85" y="528.25" width="3.3" height="3.3"/>
<rect x="204.85" y="544.15" width="3.3" height="3.3"/>
<rect x="201.35" y="546.45" width="3.3" height="3.3"/>
<rect x="204.85" y="548.75" width="3.3" height="3.3"/>
<rect x="204.85" y="552.25" width="3.3" height="3.3"/>
<rect x="204.85" y="559.85" width="3.3" height="3.3"/>
<rect x="204.85" y="567.65" width="3.3" height="3.3"/>
<rect x="201.35" y="568.75" width="3.3" height="3.3"/>
<rect x="204.85" y="572.15" width="3.3" height="3.3"/>
<rect x="204.85" y="577.15" width="3.3" height="3.3"/>
<path d="M246.2 510L247.6 512.8H244.8Z" class="tr"/>
<path d="M246.2 524.3L247.6 527.1H244.8Z" class="tr"/>
<path d="M249.6 523.8L251 526.6H248.2Z" class="tr"/>
<path d="M242.7 537L244.1 539.8H241.3Z" class="tr"/>
<path d="M246.2 537.3L247.6 540.1H244.8Z" class="tr"/>
<path d="M249.6 535.8L251 538.6H248.2Z" class="tr"/>
<path d="M242.7 544.3L244.1 547.1H241.3Z" class="tr"/>
<path d="M246.2 546.9L247.6 549.7H244.8Z" class="tr"/>
<path d="M249.6 545.3L251 548.1H248.2Z" class="tr"/>
<path d="M252.7 544.7L254.1 547.5H251.3Z" class="tr"/>
<path d="M301.8 505.3H304.1V578.3H301.8" class="ax"/>
<line x1="301.8" y1="517.47" x2="304.1" y2="517.47" class="ax"/>
<line x1="301.8" y1="529.63" x2="304.1" y2="529.63" class="ax"/>
<line x1="301.8" y1="541.8" x2="304.1" y2="541.8" class="ax"/>
<line x1="301.8" y1="553.97" x2="304.1" y2="553.97" class="ax"/>
<line x1="301.8" y1="566.13" x2="304.1" y2="566.13" class="ax"/>
<text x="301.3" y="508.7" class="tl">1000000</text>
<text x="301.3" y="520.87" class="tl">100000</text>
<text x="301.3" y="533.03" class="tl">10000</text>
<text x="301.3" y="545.2" class="tl">1000</text>
<text x="301.3" y="557.37" class="tl">100</text>
<text x="301.3" y="569.53" class="tl">10</text>
<text x="301.3" y="581.7" class="tl">1</text>
<line x1="307.8" y1="584.9" x2="385.1" y2="584.9" class="ax"/>
<line x1="328" y1="584.9" x2="328" y2="586.7" class="ax"/>
<line x1="366.1" y1="584.9" x2="366.1" y2="586.7" class="ax"/>
<text x="330" y="593.8" class="xl" textLength="41.2" lengthAdjust="spacingAndGlyphs">HIV-infected</text>
<text x="366.9" y="593.8" class="xl">control</text>
<text x="338.4" y="494.8" class="tt">MIG</text>
<line x1="314.2" y1="525.5" x2="340.4" y2="525.5" stroke="#222" stroke-width="1.0"/>
<line x1="352.7" y1="524.5" x2="378.8" y2="524.5" stroke="#b0b0b0" stroke-width="1.3"/>
<rect x="322.55" y="519.55" width="3.3" height="3.3"/>
<rect x="326.15" y="519.55" width="3.3" height="3.3"/>
<rect x="329.55" y="521.55" width="3.3" height="3.3"/>
<rect x="332.55" y="521.55" width="3.3" height="3.3"/>
<rect x="322.55" y="521.55" width="3.3" height="3.3"/>
<rect x="326.15" y="524.15" width="3.3" height="3.3"/>
<rect x="326.15" y="532.25" width="3.3" height="3.3"/>
<rect x="326.15" y="553.35" width="3.3" height="3.3"/>
<rect x="326.15" y="569.55" width="3.3" height="3.3"/>
<rect x="329.55" y="569.85" width="3.3" height="3.3"/>
<rect x="326.15" y="572.85" width="3.3" height="3.3"/>
<path d="M366.2 515L367.6 517.8H364.8Z" class="tr"/>
<path d="M369.6 518.9L371 521.7H368.2Z" class="tr"/>
<path d="M356.5 522.3L357.9 525.1H355.1Z" class="tr"/>
<path d="M366.2 522L367.6 524.8H364.8Z" class="tr"/>
<path d="M373.2 522.7L374.6 525.5H371.8Z" class="tr"/>
<path d="M359.6 524.7L361 527.5H358.2Z" class="tr"/>
<path d="M363.2 525.8L364.6 528.6H361.8Z" class="tr"/>
<path d="M366.5 525.8L367.9 528.6H365.1Z" class="tr"/>
<path d="M370.1 525.5L371.5 528.3H368.7Z" class="tr"/>
<path d="M366.2 529.7L367.6 532.5H364.8Z" class="tr"/>
<path d="M431.6 505.3H433.9V578.3H431.6" class="ax"/>
<line x1="431.6" y1="519.9" x2="433.9" y2="519.9" class="ax"/>
<line x1="431.6" y1="534.5" x2="433.9" y2="534.5" class="ax"/>
<line x1="431.6" y1="549.1" x2="433.9" y2="549.1" class="ax"/>
<line x1="431.6" y1="563.7" x2="433.9" y2="563.7" class="ax"/>
<text x="429.9" y="508.7" class="tl">10000</text>
<text x="429.9" y="523.3" class="tl">1000</text>
<text x="429.9" y="537.9" class="tl">100</text>
<text x="429.9" y="552.5" class="tl">10</text>
<text x="429.9" y="567.1" class="tl">1</text>
<text x="429.9" y="581.7" class="tl">0.1</text>
<line x1="436.6" y1="584.9" x2="515.6" y2="584.9" class="ax"/>
<line x1="457.3" y1="584.9" x2="457.3" y2="586.7" class="ax"/>
<line x1="495.4" y1="584.9" x2="495.4" y2="586.7" class="ax"/>
<text x="457.9" y="593.8" class="xl" textLength="41.2" lengthAdjust="spacingAndGlyphs">HIV-infected</text>
<text x="496.4" y="593.8" class="xl">control</text>
<text x="469" y="494.6" class="tt">TGF-<tspan class="gk">β</tspan></text>
<line x1="443.1" y1="536.5" x2="469.5" y2="536.5" stroke="#222" stroke-width="1.0"/>
<line x1="481.8" y1="535.3" x2="508.8" y2="535.3" stroke="#b0b0b0" stroke-width="1.3"/>
<rect x="455.55" y="525.15" width="3.3" height="3.3"/>
<rect x="455.55" y="532.55" width="3.3" height="3.3"/>
<rect x="452.15" y="534.45" width="3.3" height="3.3"/>
<rect x="455.55" y="536.85" width="3.3" height="3.3"/>
<rect x="458.85" y="537.55" width="3.3" height="3.3"/>
<rect x="458.85" y="539.05" width="3.3" height="3.3"/>
<rect x="452.15" y="541.85" width="3.3" height="3.3"/>
<rect x="455.55" y="542.15" width="3.3" height="3.3"/>
<rect x="455.55" y="548.75" width="3.3" height="3.3"/>
<rect x="458.85" y="548.75" width="3.3" height="3.3"/>
<path d="M492.8 512.7L494.2 515.5H491.4Z" class="tr"/>
<path d="M496.5 516.1L497.9 518.9H495.1Z" class="tr"/>
<path d="M496.5 522.7L497.9 525.5H495.1Z" class="tr"/>
<path d="M496.5 529.7L497.9 532.5H495.1Z" class="tr"/>
<path d="M496.5 534.3L497.9 537.1H495.1Z" class="tr"/>
<path d="M492.8 561.7L494.2 564.5H491.4Z" class="tr"/>
<path d="M496.5 562.7L497.9 565.5H495.1Z" class="tr"/>
<path d="M499.7 561.2L501.1 564H498.3Z" class="tr"/>
<path d="M496.5 568.9L497.9 571.7H495.1Z" class="tr"/>
</svg>
</body></html>
